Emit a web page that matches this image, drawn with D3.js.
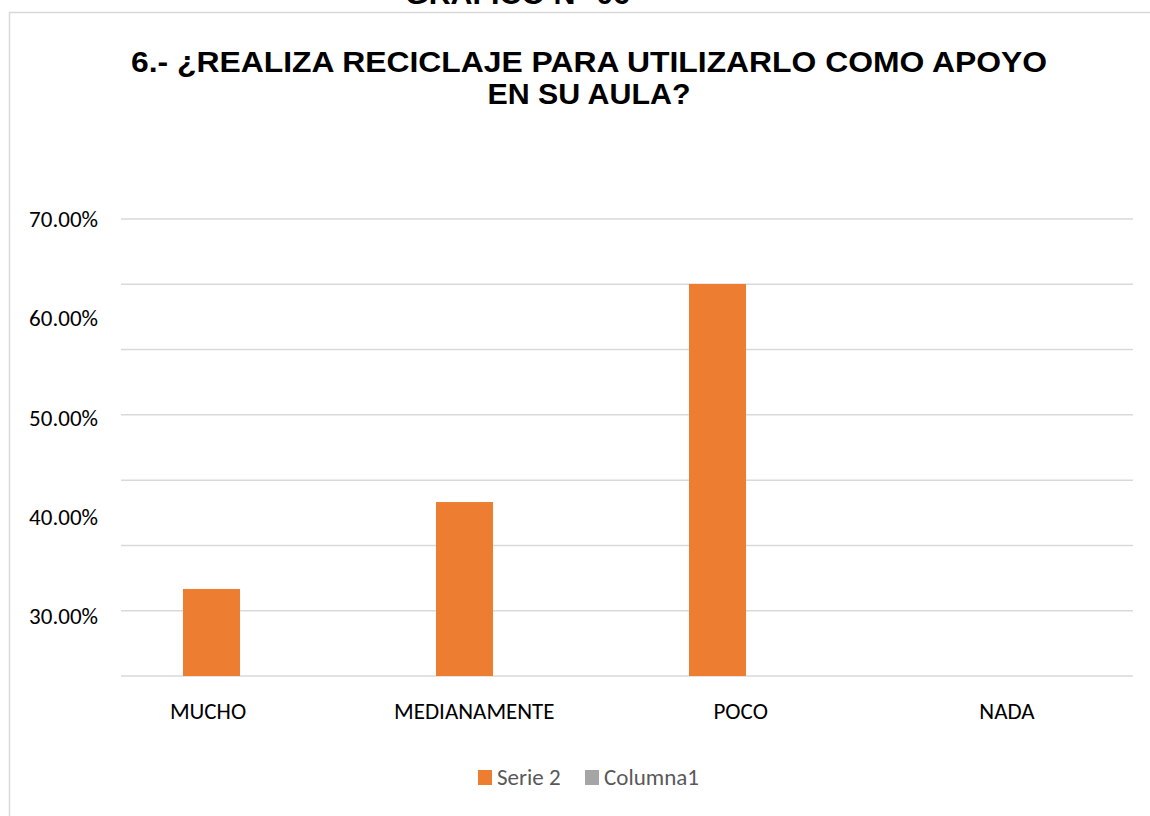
<!DOCTYPE html>
<html>
<head>
<meta charset="utf-8">
<script src="https://cdn.jsdelivr.net/npm/d3@7"></script>
<style>
  html, body { margin: 0; padding: 0; background: #fff; }
  svg { display: block; }
</style>
</head>
<body>
<svg id="chart" width="1150" height="816"></svg>
<script>
// ---- data ----
const categories = ["MUCHO", "MEDIANAMENTE", "POCO", "NADA"];
const seriesNames = ["Serie 2", "Columna1"];
const serie2 = [0.3276, 0.4151, 0.6346, 0];
const columna1 = [0, 0, 0, 0];
const tickValues = [0.30, 0.40, 0.50, 0.60, 0.70];
const titleLines = ["6.- ¿REALIZA RECICLAJE PARA UTILIZARLO COMO APOYO", "EN SU AULA?"];
const topCaption = "GRÁFICO N° 06";

const seriesColors = ["#ED7D31", "#A5A5A5"];
const seriesValues = [serie2, columna1];

const svg = d3.select("#chart");
const calibri = "Carlito, Lato, 'Open Sans', sans-serif";
const arial = "'Liberation Sans', Arial, sans-serif";

// outer chart frame
svg.append("rect")
  .attr("x", 9.5).attr("y", 12.5)
  .attr("width", 1160).attr("height", 820)
  .attr("fill", "#fff")
  .attr("stroke", "#d9d9d9").attr("stroke-width", 1.5);

// cut-off caption above the frame (also clipped in the reference)
svg.append("text")
  .attr("x", 405).attr("y", 4)
  .attr("textLength", 225).attr("lengthAdjust", "spacingAndGlyphs")
  .attr("font-family", arial)
  .attr("font-weight", "bold").attr("font-size", 29)
  .attr("fill", "#000")
  .text(topCaption);

// title
const titleWidths = [916, 203];
svg.append("g").selectAll("text").data(titleLines).join("text")
  .attr("x", (d, i) => 589 - titleWidths[i] / 2).attr("y", (d, i) => 71.5 + i * 32)
  .attr("textLength", (d, i) => titleWidths[i]).attr("lengthAdjust", "spacingAndGlyphs")
  .attr("font-family", arial)
  .attr("font-weight", "bold").attr("font-size", 29)
  .attr("fill", "#000")
  .text(d => d);

// scales
const plotLeft = 121, plotRight = 1133, plotTop = 219, plotBottom = 676;
const yMin = 0.24, yMax = 0.70;
const y = d3.scaleLinear().domain([yMin, yMax]).range([plotBottom, plotTop]).clamp(true);
const x0 = d3.scaleBand().domain(categories).range([plotLeft, plotRight]).paddingInner(0).paddingOuter(0);
const x1 = d3.scaleBand().domain(seriesNames).range([0, x0.bandwidth()]).paddingInner(0.208).paddingOuter(0.861);
const labelX = d3.scalePoint().domain(categories).range([208, 1007]);

// gridlines (8 evenly spaced levels incl. baseline)
const gridLevels = d3.range(8).map(i => yMin + i * (yMax - yMin) / 7);
svg.append("g").selectAll("line").data(gridLevels).join("line")
  .attr("x1", plotLeft).attr("x2", plotRight)
  .attr("y1", d => y(d)).attr("y2", d => y(d))
  .attr("stroke", "#d9d9d9").attr("stroke-width", 1.5);

// y tick labels
const yAxis = d3.axisLeft(y).tickValues(tickValues).tickSize(0).tickPadding(0)
  .tickFormat(d => (d * 100).toFixed(2) + "%");
const gy = svg.append("g").attr("transform", "translate(98,0)").call(yAxis);
gy.select(".domain").remove();
gy.selectAll("text")
  .attr("font-family", calibri).attr("font-size", 23).attr("fill", "#000");

// bars
const groups = svg.append("g").selectAll("g").data(categories).join("g")
  .attr("transform", d => `translate(${x0(d)},0)`);
groups.selectAll("rect")
  .data((c, ci) => seriesNames.map((s, si) => ({ s, si, v: seriesValues[si][ci] })))
  .join("rect")
  .attr("x", d => x1(d.s))
  .attr("width", x1.bandwidth())
  .attr("y", d => y(d.v))
  .attr("height", d => y(yMin) - y(d.v))
  .attr("fill", d => seriesColors[d.si]);

// category labels
svg.append("g").selectAll("text").data(categories).join("text")
  .attr("x", d => labelX(d)).attr("y", 719)
  .attr("text-anchor", "middle")
  .attr("font-family", calibri).attr("font-size", 23)
  .attr("fill", "#000")
  .text(d => d);

// legend
const legendX = [478, 585];
const lg = svg.append("g").selectAll("g").data(seriesNames).join("g")
  .attr("transform", (d, i) => `translate(${legendX[i]},770)`);
lg.append("rect").attr("width", 14).attr("height", 15)
  .attr("fill", (d, i) => seriesColors[i]);
lg.append("text").attr("x", 19).attr("y", 15)
  .attr("font-family", calibri).attr("font-size", 23)
  .attr("fill", "#595959")
  .text(d => d);
</script>
</body>
</html>
